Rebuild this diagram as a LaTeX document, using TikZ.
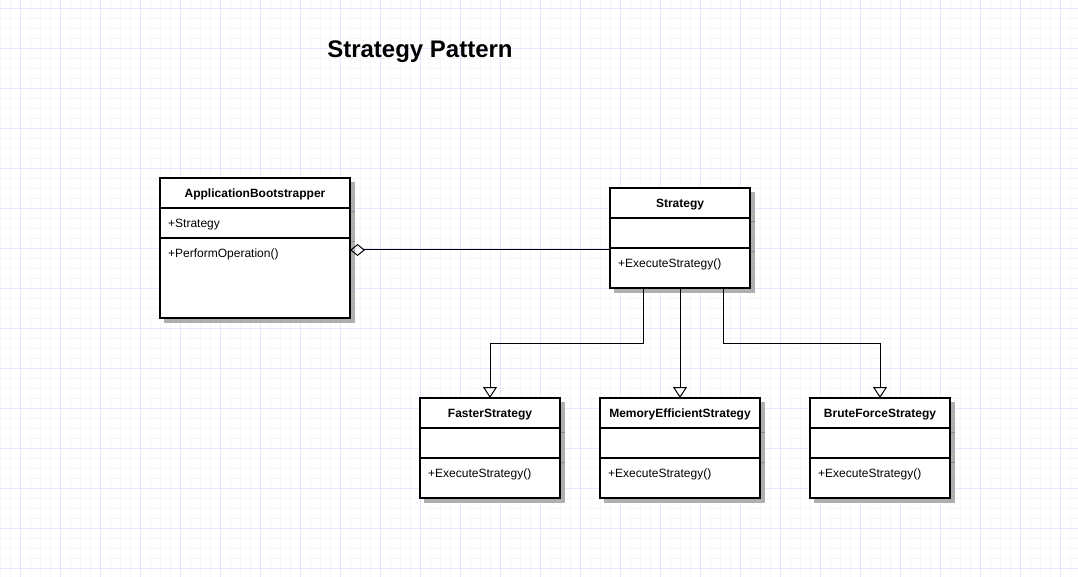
\documentclass[tikz,border=0pt]{standalone}
\usepackage{fontspec}
\setmainfont{Liberation Sans}
\usetikzlibrary{arrows.meta}
\definecolor{gridminor}{RGB}{245,245,254}
\definecolor{gridmajor}{RGB}{230,230,252}
\definecolor{shadowgray}{RGB}{175,175,175}
\definecolor{sepshadowc}{RGB}{140,140,140}
\tikzset{
  classbox/.style={draw=black, line width=2pt, fill=white, outer sep=0pt, inner sep=0pt},
  boxsep/.style={draw=black, line width=2pt},
  boxshadow/.style={fill=shadowgray},
  sepshadow/.style={draw=sepshadowc, line width=1pt},
  cname/.style={font=\fontsize{12pt}{14pt}\selectfont\bfseries, anchor=base, inner sep=0pt},
  cmember/.style={font=\fontsize{12pt}{14pt}\selectfont, anchor=base west, inner sep=0pt},
  conn/.style={draw=black, line width=1pt},
  inherit/.style={conn, -{Triangle[open, length=11pt, width=14pt]}},
  aggreg/.style={conn, {Diamond[open, length=15pt, width=12pt]}-},
  minorline/.style={draw=gridminor, line width=1pt},
  majorline/.style={draw=gridmajor, line width=1pt},
}
% #1 name, #2 x, #3 y, #4 w, #5 h, #6 title, #7 operation
\newcommand{\umlclassbox}[7]{%
  \fill[boxshadow] (#2+4,#3+4) rectangle (#2+#4+5,#3+#5+5);
  \draw[sepshadow] (#2+#4+1,#3+34) -- (#2+#4+5,#3+34);
  \draw[sepshadow] (#2+#4+1,#3+64) -- (#2+#4+5,#3+64);
  \node[classbox, minimum width=#4pt, minimum height=#5pt] (#1) at (#2+#4/2,#3+#5/2) {};
  \draw[boxsep] (#2,#3+30) -- (#2+#4,#3+30);
  \draw[boxsep] (#2,#3+60) -- (#2+#4,#3+60);
  \node[cname] (#1-name) at (#2+#4/2,#3+19.5) {#6};
  \node[cmember] (#1-op) at (#2+8,#3+79.5) {#7};
}
\begin{document}
\begin{tikzpicture}[x=1pt,y=-1pt]
  \useasboundingbox (0,0) rectangle (1078,577);
  \fill[white] (0,0) rectangle (1078,577);
  % grid
  \foreach \gx in {0,10,...,1070} \draw[minorline] (\gx+0.5,0) -- (\gx+0.5,577);
  \foreach \gy in {8,18,...,568} \draw[minorline] (0,\gy+0.5) -- (1078,\gy+0.5);
  \foreach \gx in {20,60,...,1060} \draw[majorline] (\gx+0.5,0) -- (\gx+0.5,577);
  \foreach \gy in {8,48,...,568} \draw[majorline] (0,\gy+0.5) -- (1078,\gy+0.5);

  % title
  \node[font=\fontsize{24pt}{28pt}\selectfont\bfseries, anchor=base, inner sep=0pt] (title) at (420,58) {Strategy Pattern};

  % classes
  \umlclassbox{boot}{160}{178}{190}{140}{ApplicationBootstrapper}{+PerformOperation()}
  \node[cmember] (boot-attr) at (168,227.5) {+Strategy};
  \umlclassbox{strategy}{610}{188}{140}{100}{Strategy}{+ExecuteStrategy()}
  \umlclassbox{faster}{420}{398}{140}{100}{FasterStrategy}{+ExecuteStrategy()}
  \umlclassbox{memory}{600}{398}{160}{100}{MemoryEfficientStrategy}{+ExecuteStrategy()}
  \umlclassbox{brute}{810}{398}{140}{100}{BruteForceStrategy}{+ExecuteStrategy()}

  % aggregation
  \coordinate (aggy) at (0,250);
  \draw[aggreg] (boot.east |- aggy) -- (strategy.west |- aggy);

  % generalizations
  \draw[inherit] ([xshift=-37pt]strategy.south) -- ++(0,55) -| (faster.north);
  \draw[inherit] (strategy.south) -- (memory.north);
  \draw[inherit] ([xshift=43pt]strategy.south) -- ++(0,55) -| (brute.north);
\end{tikzpicture}
\end{document}
